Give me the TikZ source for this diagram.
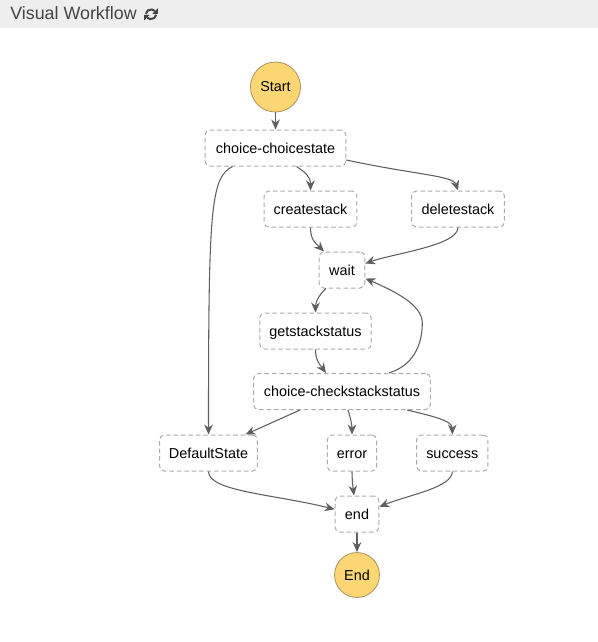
\documentclass[tikz,border=0pt]{standalone}
\usepackage{fontspec}
\setmainfont{Liberation Sans}
\usetikzlibrary{arrows.meta,calc}
\definecolor{bandgray}{HTML}{EEEEEE}
\definecolor{headtext}{HTML}{444444}
\definecolor{dashgray}{HTML}{ABABAB}
\definecolor{edgegray}{HTML}{5F5F5F}
\definecolor{termfill}{HTML}{FCD673}
\definecolor{termline}{HTML}{A89260}
\tikzset{
  px/.style={x=0.75pt,y=-0.75pt},
  state/.style={draw=dashgray,line width=0.75pt,dash pattern=on 3.4pt off 2.2pt,rounded corners=3.5pt,fill=white,inner sep=0pt,minimum height=27pt,text=black,text height=9.5pt,text depth=2pt,font=\fontsize{10.8pt}{12pt}\selectfont},
  term/.style={circle,draw=termline,line width=0.6pt,fill=termfill,inner sep=0pt,text=black,text height=9.5pt,text depth=2pt,font=\fontsize{10.8pt}{12pt}\selectfont},
  edge/.style={draw=edgegray,line width=0.8pt,-{Stealth[length=7.5pt,width=6.5pt]}},
}
\newcommand{\shx}[2]{([xshift=#2*0.75pt]#1)}
\begin{document}
\begin{tikzpicture}[px]
\useasboundingbox (0,0) rectangle (598,642);
\fill[bandgray] (0,0) rectangle (598,28.5);
\node[anchor=west,text=headtext,inner sep=0pt,font=\fontsize{13.4pt}{15pt}\selectfont] (title) at (10,13.5) {Visual Workflow};
% refresh icon
\begin{scope}[shift={(151,14.3)},headtext]
\draw[line width=1.5pt] (-5.2,-0.5) arc[start angle=-170,end angle=-45,radius=5.3];
\draw[line width=1.5pt] (5.2,0.5) arc[start angle=10,end angle=135,radius=5.3];
\fill (6.8,-6) -- (6.8,-0.5) -- (1.3,-0.5) -- cycle;
\fill (-6.8,6) -- (-6.8,0.5) -- (-1.3,0.5) -- cycle;
\end{scope}

\node[term,minimum size=37.5pt] (start) at (275.5,87) {Start};
\node[state,minimum width=105.5pt] (cc) at (275.5,148) {choice-choicestate};
\node[state,minimum width=69.5pt] (create) at (310.5,209) {createstack};
\node[state,minimum width=69.5pt] (delete) at (458,209) {deletestack};
\node[state,minimum width=34.3pt] (wait) at (342,270) {wait};
\node[state,minimum width=83.5pt] (get) at (315.5,331) {getstackstatus};
\node[state,minimum width=132.5pt] (check) at (342,391.5) {choice-checkstackstatus};
\node[state,minimum width=73.3pt] (default) at (208.5,453) {DefaultState};
\node[state,minimum width=37pt] (error) at (352,453) {error};
\node[state,minimum width=53.5pt] (success) at (452.3,453) {success};
\node[state,minimum width=32.8pt] (endst) at (357,514) {end};
\node[term,minimum size=33.7pt] (endt) at (357,575) {End};

\draw[edge] (start) -- (cc);
\draw[edge] \shx{cc.south}{-43} .. controls +(-22,11) and +(0,-225) .. (default.north);
\draw[edge] \shx{cc.south}{21} .. controls +(9,6) and +(0,-14) .. (create.north);
\draw[edge] ($(cc.east)+(0,12)$) .. controls +(70,15) and +(-5,-15) .. (delete.north);
\draw[edge] (create.south) .. controls +(0,13) and +(-8,-8) .. \shx{wait.north}{-18};
\draw[edge] (delete.south) .. controls +(0,18) and +(28,-10) .. ($(wait.east)+(0,-6.5)$);
\draw[edge] \shx{check.north}{47} .. controls +(22,-7) and +(0,25) .. (422.3,323) .. controls +(0,-18) and +(30,13) .. ($(wait.east)+(0,8.5)$);
\draw[edge] \shx{wait.south}{-16} .. controls +(-7,6) and +(0,-10) .. (get.north);
\draw[edge] (get.south) .. controls +(0,12) and +(-5,-7) .. \shx{check.north}{-16};
\draw[edge] \shx{check.south}{-42} -- \shx{default.north}{37};
\draw[edge] \shx{check.south}{6} .. controls +(2,6) and +(0,-10) .. (error.north);
\draw[edge] \shx{check.south}{65} .. controls +(25,6) and +(0,-14) .. (success.north);
\draw[edge] (default.south) .. controls +(0,20) and +(-60,-15) .. ($(endst.west)+(0,-4.7)$);
\draw[edge] (error.south) .. controls +(0,8) and +(-1,-8) .. \shx{endst.north}{-3};
\draw[edge] (success.south) .. controls +(0,16) and +(30,-12) .. ($(endst.east)+(0,-7.3)$);
\draw[edge] (endst) -- (endt);
\end{tikzpicture}
\end{document}
